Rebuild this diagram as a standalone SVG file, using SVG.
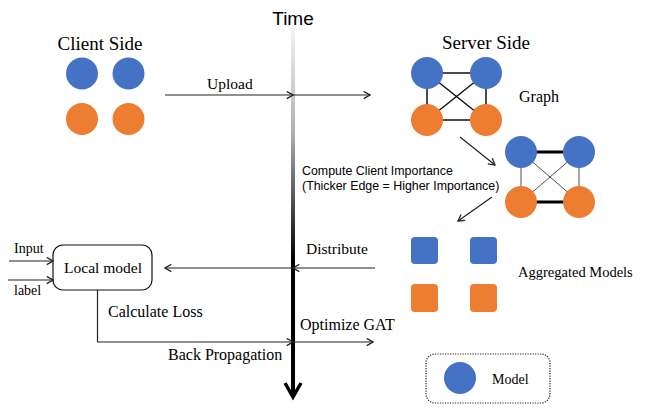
<svg xmlns="http://www.w3.org/2000/svg" width="645" height="413" viewBox="0 0 645 413">
<defs>
<style>
.serif{font-family:"Liberation Serif","Times New Roman",serif;fill:#000}
.sans{font-family:"Liberation Sans",Arial,sans-serif;fill:#000}
.blue{fill:#4472C4}
.orange{fill:#ED7D31}
.conn{fill:none;stroke:#222;stroke-width:1.2}
.edge{stroke:#111;stroke-width:1.5}
.thin{stroke:#222;stroke-width:0.8}
.thick{stroke:#000;stroke-width:3}
</style>
<marker id="ah" viewBox="0 0 10 10" refX="9" refY="5" markerWidth="9" markerHeight="9" markerUnits="userSpaceOnUse" orient="auto">
<path d="M2,1 L9,5 L2,9" fill="none" stroke="#222" stroke-width="1.4"/>
</marker>
<linearGradient id="tg" x1="0" y1="28" x2="0" y2="260" gradientUnits="userSpaceOnUse">
<stop offset="0" stop-color="#f4f4f8"/>
<stop offset="0.45" stop-color="#b0b0b0"/>
<stop offset="1" stop-color="#000"/>
</linearGradient>
</defs>
<rect width="645" height="413" fill="#fff"/>

<g id="timeline">
<rect x="291" y="28" width="4" height="368" fill="url(#tg)"/>
<path d="M285,383 L293,397 L301,383" fill="none" stroke="#000" stroke-width="3.5"/>
<text class="sans" x="293" y="25" font-size="19" text-anchor="middle">Time</text>
</g>

<g id="client-side">
<text class="serif" x="100" y="50" font-size="19" text-anchor="middle">Client Side</text>
<circle class="blue" cx="82" cy="73.5" r="16"/>
<circle class="blue" cx="128.5" cy="73.5" r="16"/>
<circle class="orange" cx="82" cy="119" r="16"/>
<circle class="orange" cx="128.5" cy="119" r="16"/>
</g>

<g id="server-graph">
<text class="serif" x="486" y="49" font-size="19" text-anchor="middle">Server Side</text>
<line class="edge" x1="427" y1="73" x2="486" y2="73"/>
<line class="edge" x1="427" y1="120" x2="486" y2="120"/>
<line class="edge" x1="427" y1="73" x2="427" y2="120"/>
<line class="edge" x1="486" y1="73" x2="486" y2="120"/>
<line class="edge" x1="427" y1="73" x2="486" y2="120"/>
<line class="edge" x1="486" y1="73" x2="427" y2="120"/>
<circle class="blue" cx="427" cy="73" r="16"/>
<circle class="blue" cx="486" cy="73" r="16"/>
<circle class="orange" cx="427" cy="120" r="16"/>
<circle class="orange" cx="486" cy="120" r="16"/>
<text class="serif" x="519" y="102" font-size="16">Graph</text>
</g>

<g id="weighted-graph">
<line class="thick" x1="521" y1="152" x2="579" y2="152"/>
<line class="thick" x1="521" y1="202" x2="579" y2="202"/>
<line class="thin" x1="521" y1="152" x2="521" y2="202"/>
<line class="thin" x1="579" y1="152" x2="579" y2="202"/>
<line class="thin" x1="521" y1="152" x2="579" y2="202"/>
<line class="thin" x1="579" y1="152" x2="521" y2="202"/>
<circle class="blue" cx="521" cy="152" r="16"/>
<circle class="blue" cx="579" cy="152" r="16"/>
<circle class="orange" cx="521" cy="202" r="16"/>
<circle class="orange" cx="579" cy="202" r="16"/>
</g>

<g id="aggregated-models">
<rect class="blue" x="411" y="237" width="27" height="27" rx="4"/>
<rect class="blue" x="470" y="237" width="27" height="27" rx="4"/>
<rect class="orange" x="411" y="284" width="27" height="28" rx="4"/>
<rect class="orange" x="470" y="284" width="27" height="28" rx="4"/>
<text class="serif" x="518" y="277" font-size="14.5">Aggregated Models</text>
</g>

<g id="local-model">
<rect x="53" y="245" width="99" height="45" rx="10" fill="#fff" stroke="#111" stroke-width="1.2"/>
<text class="serif" x="103" y="273" font-size="15.5" text-anchor="middle">Local model</text>
</g>

<g id="legend">
<rect x="426" y="354" width="124" height="49" rx="9" fill="none" stroke="#222" stroke-width="1.2" stroke-dasharray="1.2,1.3"/>
<circle class="blue" cx="460" cy="378" r="16"/>
<text class="serif" x="492" y="384" font-size="14">Model</text>
</g>

<g id="connectors">
<polyline class="conn" points="165,95 293,95 370,95" marker-mid="url(#ah)" marker-end="url(#ah)"/>
<text class="serif" x="207" y="89" font-size="15.5">Upload</text>
<line class="conn" x1="460" y1="137" x2="495" y2="165" marker-end="url(#ah)" stroke-width="1.5"/>
<line class="conn" x1="492" y1="197" x2="458" y2="221" marker-end="url(#ah)" stroke-width="1.5"/>
<text class="sans" x="302" y="175" font-size="12.4">Compute Client Importance</text>
<text class="sans" x="302" y="190" font-size="12.4">(Thicker Edge = Higher Importance)</text>
<polyline class="conn" points="375,268 293,268 165,268" marker-mid="url(#ah)" marker-end="url(#ah)"/>
<text class="serif" x="306" y="254" font-size="15.5">Distribute</text>
<line class="conn" x1="9" y1="261" x2="53" y2="261" marker-end="url(#ah)"/>
<line class="conn" x1="8" y1="280" x2="53" y2="280" marker-end="url(#ah)"/>
<text class="serif" x="14" y="253" font-size="14">Input</text>
<text class="serif" x="14" y="295" font-size="14">label</text>
<line class="conn" x1="97.5" y1="290" x2="97.5" y2="342"/>
<polyline class="conn" points="97,342 293,342 373,342" marker-mid="url(#ah)" marker-end="url(#ah)"/>
<text class="serif" x="108" y="317" font-size="16">Calculate Loss</text>
<text class="serif" x="300" y="330" font-size="16">Optimize GAT</text>
<text class="serif" x="168" y="360" font-size="16">Back Propagation</text>
</g>
</svg>
